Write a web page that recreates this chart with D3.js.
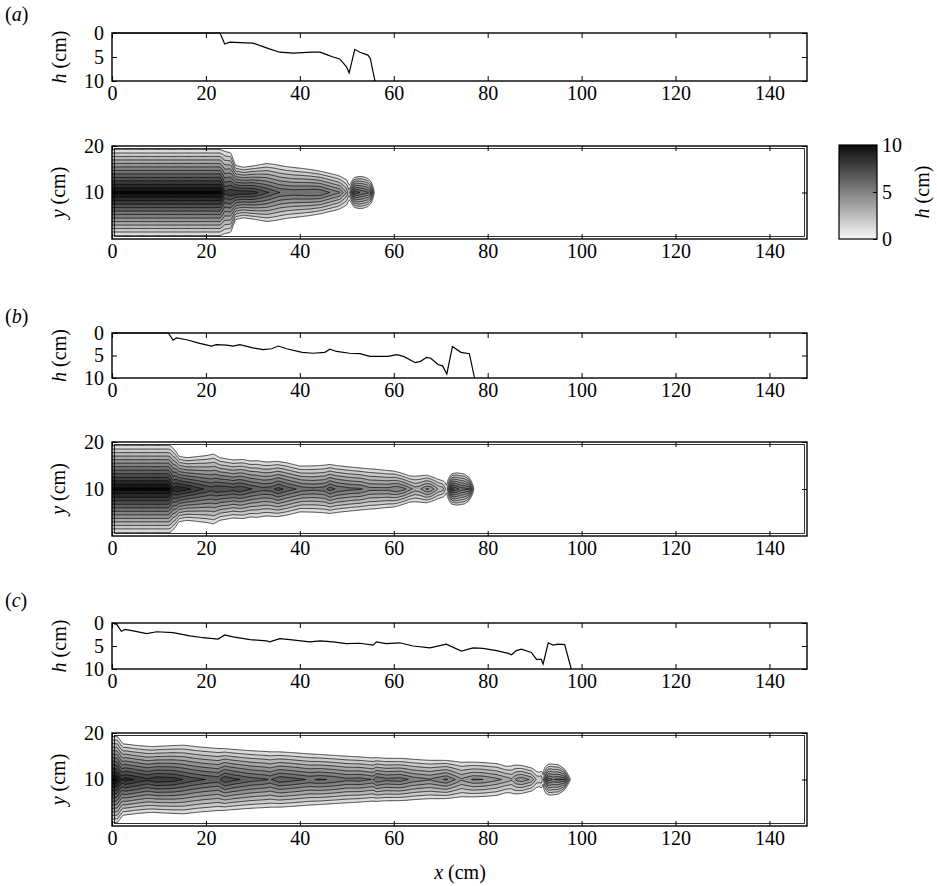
<!DOCTYPE html>
<html>
<head>
<meta charset="utf-8">
<script src="https://cdn.jsdelivr.net/npm/d3@7"></script>
<style>
  body { margin: 0; background: #fff; }
  svg { display: block; }
</style>
</head>
<body>
<svg id="fig" width="937" height="886"></svg>
<script>
// ---- axis ticks ----
const xTicks = [0, 20, 40, 60, 80, 100, 120, 140];
const hTicks = [0, 5, 10];
const yTicks = [10, 20];
const barTicks = [0, 5, 10];
const levels = d3.range(0.75, 10, 0.75);

// ---- depth profiles h(x), cm (panels a, b, c) ----
const profAx = [0, 23.0, 24.0, 25.1, 27.2, 30.0, 32.9, 35.7, 38.6, 42.5, 44.3, 45.7, 47.1, 48.5, 49.9, 50.5, 51.7, 52.8, 54.5, 55.0, 56.0];
const profAh = [0, 0, 2.3, 1.9, 2.0, 2.1, 3.1, 4.0, 4.2, 4.0, 4.0, 4.5, 5.0, 5.4, 7.0, 8.3, 3.4, 4.0, 4.6, 5.3, 10];

const profBx = [0, 12.0, 13.0, 13.7, 15.9, 18.7, 21.2, 22.2, 24.4, 25.8, 27.2, 30.0, 32.2, 34.0, 35.4, 37.2, 40.5, 42.8, 45.3, 46.4, 47.8, 50.6, 52.8, 54.9, 58.8, 60.6, 62.1, 64.6, 65.7, 67.0, 67.9, 69.4, 70.4, 71.3, 72.5, 74.3, 76.1, 77.2];
const profBh = [0, 0, 1.6, 1.1, 1.5, 2.3, 2.9, 2.6, 2.7, 2.9, 2.6, 3.3, 3.7, 3.5, 2.9, 3.5, 4.3, 4.5, 4.3, 3.6, 4.1, 4.5, 4.6, 5.2, 5.2, 4.8, 5.2, 6.6, 6.3, 5.4, 5.6, 7.0, 7.3, 9.1, 3.0, 4.3, 4.6, 10];

const profCx = [0, 1.0, 2.0, 2.8, 4.5, 7.4, 9.5, 13.0, 16.6, 19.4, 22.6, 24.0, 25.8, 29.4, 32.9, 33.6, 35.7, 37.9, 42.1, 44.3, 47.1, 49.9, 52.8, 55.6, 56.3, 58.4, 61.3, 64.1, 67.7, 71.2, 74.4, 76.9, 79.0, 81.9, 84.4, 85.1, 86.1, 87.2, 89.3, 90.4, 91.4, 91.8, 92.9, 93.9, 95.0, 96.4, 97.8];
const profCh = [0, 0.3, 1.8, 1.4, 1.7, 2.3, 1.9, 2.1, 2.8, 3.2, 3.5, 2.6, 3.0, 3.6, 3.9, 4.1, 3.4, 3.6, 4.1, 3.9, 4.1, 4.5, 4.4, 4.8, 4.1, 4.5, 4.3, 5.0, 5.4, 4.6, 6.1, 5.4, 5.5, 6.0, 6.6, 6.9, 6.0, 5.7, 6.4, 7.9, 7.9, 8.9, 4.3, 4.8, 4.6, 4.7, 10];

// ---- current half-width about the channel centre line y = 10 cm ----
const widAx = [0, 23.0, 24.0, 25.3, 26.3, 28, 30, 33, 35, 37, 40, 42, 45, 48, 50, 50.7, 51.5, 52.5, 53.5, 54.5, 55.2, 55.7, 56.0, 56.2];
const widAw = [10, 10, 9.8, 9.4, 6.4, 6.0, 6.3, 7.0, 6.8, 6.4, 6.0, 5.7, 5.1, 4.4, 3.6, 2.4, 3.6, 3.9, 3.9, 3.5, 2.8, 1.8, 0.8, 0.1];

const widBx = [0, 12.5, 13.3, 14.3, 16, 18, 20, 21.6, 23, 25.8, 28, 29.4, 31, 32.9, 35, 37.2, 40, 43, 46.4, 48, 50, 52.8, 56, 59.9, 61.3, 63.4, 65, 67, 69, 70.5, 71.3, 72.2, 73.5, 75, 76, 76.8, 77.4];
const widBw = [10, 10, 9.2, 7.6, 7.3, 7.6, 7.9, 8.3, 7.4, 6.9, 7.0, 6.7, 6.8, 6.5, 6.6, 6.3, 5.6, 5.7, 5.9, 5.7, 5.5, 5.2, 5.0, 4.5, 4.1, 3.4, 3.5, 3.5, 2.9, 2.4, 2.6, 3.6, 3.9, 3.7, 2.9, 1.6, 0.2];

const widCx = [0, 1.2, 2.4, 5, 8.7, 12, 15.3, 18, 21.8, 25, 29.8, 34, 37.7, 42, 46.2, 50, 54.3, 58, 62.5, 66, 70.6, 74, 78.7, 82, 84, 85.5, 87.5, 89.5, 91, 92.2, 93.5, 95, 96.2, 97.2, 97.9];
const widCw = [10, 10, 8.4, 8.1, 7.8, 8.0, 8.2, 7.9, 7.6, 7.3, 7.0, 6.8, 6.6, 6.3, 6.0, 5.8, 5.5, 5.3, 5.2, 5.0, 4.8, 4.6, 4.4, 4.2, 3.6, 3.9, 3.6, 3.1, 2.4, 3.6, 3.9, 3.7, 2.8, 1.4, 0.2];

// ---- layout ----
const L = 112, R = 807;
const FONT = "'Liberation Serif', 'Times New Roman', serif";
const FS = "20px";
const panels = [
  { tag: "a", letterY: 21,  hTop: 33,  hBot: 81,  cTop: 146, cBot: 239, px: profAx, ph: profAh, wx: widAx, ww: widAw },
  { tag: "b", letterY: 323, hTop: 333, hBot: 378, cTop: 442, cBot: 536, px: profBx, ph: profBh, wx: widBx, ww: widBw },
  { tag: "c", letterY: 607, hTop: 623, hBot: 669, cTop: 733, cBot: 826, px: profCx, ph: profCh, wx: widCx, ww: widCw }
];

const svg = d3.select("#fig");
const x = d3.scaleLinear().domain([0, 148]).range([L, R]);
const gray = d3.scaleLinear().domain([0, 10]).range(["#f6f6f6", "#0b0b0b"]);

// sampling grid for the depth field
const DX = 0.2, DY = 0.1;
const nx = Math.round(148 / DX) + 1, ny = Math.round(20 / DY) + 1;

function depthField(p) {
  const prof = d3.scaleLinear().domain(p.px).range(p.ph).clamp(true);
  const wid = d3.scaleLinear().domain(p.wx).range(p.ww).clamp(true);
  const xEnd = Math.min(p.px[p.px.length - 1], p.wx[p.wx.length - 1]);
  const v = new Float64Array(nx * ny);
  for (let i = 0; i < nx; i++) {
    const xi = i * DX;
    const c = xi >= xEnd ? 0 : 10 - prof(xi);
    const w = wid(xi);
    for (let j = 0; j < ny; j++) {
      const s = Math.abs(j * DY - 10);
      v[j * nx + i] = c * Math.max(0, 1 - s / w);
    }
  }
  return v;
}

function styleAxis(g) {
  g.select(".domain").remove();
  g.selectAll(".tick line").attr("stroke", "#000").attr("stroke-width", 1);
  g.selectAll(".tick text").attr("fill", "#000");
}

function frameAxes(g, yScale, top, bot, yTickVals, yLabels) {
  g.append("g").attr("transform", `translate(0,${bot})`)
    .call(d3.axisBottom(x).tickValues(xTicks).tickSize(-5).tickPadding(5)).call(styleAxis);
  g.append("g").attr("transform", `translate(0,${top})`)
    .call(d3.axisTop(x).tickValues(xTicks).tickSize(-5).tickFormat("")).call(styleAxis);
  g.append("g").attr("transform", `translate(${L},0)`)
    .call(d3.axisLeft(yScale).tickValues(yTickVals).tickSize(-5).tickPadding(8)
      .tickFormat(d => yLabels.includes(d) ? d : "")).call(styleAxis);
  g.append("g").attr("transform", `translate(${R},0)`)
    .call(d3.axisRight(yScale).tickValues(yTickVals).tickSize(-5).tickFormat("")).call(styleAxis);
}

function yTitle(g, cx, cy, sym) {
  const t = g.append("text").attr("transform", `translate(${cx},${cy}) rotate(-90)`)
    .attr("text-anchor", "middle");
  t.append("tspan").attr("font-style", "italic").text(sym);
  t.append("tspan").text(" (cm)");
}

panels.forEach(p => {
  const g = svg.append("g");

  // panel letter
  const lt = g.append("text").attr("x", 5).attr("y", p.letterY);
  lt.append("tspan").text("(");
  lt.append("tspan").attr("font-style", "italic").text(p.tag);
  lt.append("tspan").text(")");

  // ---- depth profile ----
  const hy = d3.scaleLinear().domain([0, 10]).range([p.hTop, p.hBot]);
  const line = d3.line().x(d => x(d[0])).y(d => hy(d[1]));
  g.append("path").datum(d3.zip(p.px, p.ph)).attr("d", line)
    .attr("fill", "none").attr("stroke", "#000").attr("stroke-width", 1.2);
  g.append("rect").attr("x", L).attr("y", p.hTop).attr("width", R - L).attr("height", p.hBot - p.hTop)
    .attr("fill", "none").attr("stroke", "#000").attr("stroke-width", 1.4);
  frameAxes(g, hy, p.hTop, p.hBot, hTicks, hTicks);
  yTitle(g, 66, (p.hTop + p.hBot) / 2, "h");

  // ---- plan view contours ----
  const yy = d3.scaleLinear().domain([0, 20]).range([p.cBot, p.cTop]);
  const clipId = "clip" + p.tag;
  svg.append("clipPath").attr("id", clipId).append("rect")
    .attr("x", L).attr("y", p.cTop).attr("width", R - L).attr("height", p.cBot - p.cTop);
  const proj = d3.geoTransform({
    point(u, v) { this.stream.point(x((u - 0.5) * DX), yy((v - 0.5) * DY)); }
  });
  const path = d3.geoPath(proj);
  const contours = d3.contours().size([nx, ny]).thresholds(levels)(depthField(p));
  const step = levels[1] - levels[0];
  g.append("g").attr("clip-path", `url(#${clipId})`)
    .selectAll("path").data(contours).join("path")
    .attr("d", path)
    .attr("fill", d => gray(d.value + step / 2))
    .attr("stroke", "#000").attr("stroke-width", 0.7).attr("stroke-linejoin", "round");
  g.append("rect").attr("x", L).attr("y", p.cTop).attr("width", R - L).attr("height", p.cBot - p.cTop)
    .attr("fill", "none").attr("stroke", "#000").attr("stroke-width", 1.4);
  g.append("rect").attr("x", L + 2.5).attr("y", p.cTop + 2.5).attr("width", R - L - 5).attr("height", p.cBot - p.cTop - 5)
    .attr("fill", "none").attr("stroke", "#000").attr("stroke-width", 0.8);
  frameAxes(g, yy, p.cTop, p.cBot, yTicks, yTicks);
  yTitle(g, 65, (p.cTop + p.cBot) / 2, "y");
});

// x-axis title
const xt = svg.append("text").attr("x", 460).attr("y", 879).attr("text-anchor", "middle");
xt.append("tspan").attr("font-style", "italic").text("x");
xt.append("tspan").text(" (cm)");

// ---- colour bar ----
const cbX = 839, cbW = 38, cbTop = 145, cbBot = 239;
const cb = d3.scaleLinear().domain([0, 10]).range([cbBot, cbTop]);
const grad = svg.append("defs").append("linearGradient").attr("id", "cbgrad")
  .attr("x1", 0).attr("y1", 1).attr("x2", 0).attr("y2", 0);
d3.range(0, 10.01, 1).forEach(v => grad.append("stop").attr("offset", v / 10).attr("stop-color", gray(v)));
svg.append("rect").attr("x", cbX).attr("y", cbTop).attr("width", cbW).attr("height", cbBot - cbTop)
  .attr("fill", "url(#cbgrad)").attr("stroke", "#000").attr("stroke-width", 1.2);
svg.append("g").attr("transform", `translate(${cbX + cbW},0)`)
  .call(d3.axisRight(cb).tickValues(barTicks).tickSize(-4).tickPadding(5)).call(styleAxis);
const ct = svg.append("text").attr("transform", `translate(929,${(cbTop + cbBot) / 2}) rotate(-90)`)
  .attr("text-anchor", "middle");
ct.append("tspan").attr("font-style", "italic").text("h");
ct.append("tspan").text(" (cm)");

// one typeface for every label
svg.selectAll("text")
  .style("font-family", FONT).style("font-size", FS).style("fill", "#000");
svg.selectAll("g").attr("font-family", null).attr("font-size", null);
</script>
</body>
</html>
